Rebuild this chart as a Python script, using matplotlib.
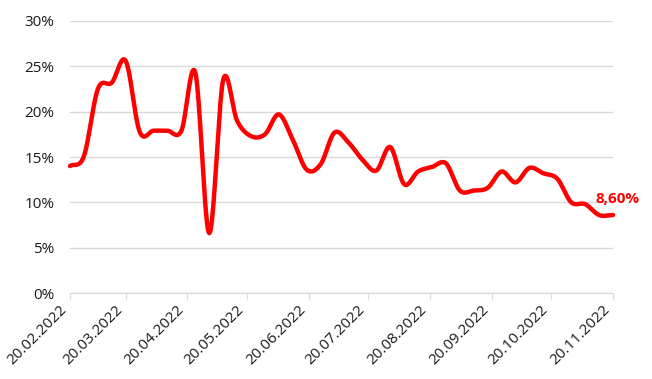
import numpy as np
import pandas as pd
import matplotlib
matplotlib.use("Agg")
import matplotlib.pyplot as plt
import matplotlib.dates as mdates
import matplotlib.transforms as mtransforms
from matplotlib.ticker import PercentFormatter

plt.rcParams['font.family'] = ['Open Sans', 'DejaVu Sans']

# weekly values (share)
dates = pd.date_range('2022-02-20', periods=40, freq='7D')
values = [14.0, 15.1, 22.5, 23.2, 25.6, 17.8, 17.9, 17.9, 17.9, 24.3,
          6.6, 23.5, 19.0, 17.3, 17.5, 19.7, 16.9, 13.6, 14.2, 17.7,
          16.6, 14.7, 13.5, 16.1, 12.0, 13.4, 13.9, 14.3, 11.3, 11.3,
          11.6, 13.4, 12.2, 13.8, 13.2, 12.6, 10.0, 9.8, 8.6, 8.6]
tick_dates = pd.date_range('2022-02-01', '2022-11-01', freq='MS') + pd.Timedelta(days=19)
last_label = '8,60%'

x = mdates.date2num(dates.to_pydatetime())
y = np.array(values) / 100


# smoothed line like the spreadsheet one (Catmull-Rom through the points)
def smooth(px, py, n=20):
    px = np.concatenate([[2 * px[0] - px[1]], px, [2 * px[-1] - px[-2]]])
    py = np.concatenate([[2 * py[0] - py[1]], py, [2 * py[-1] - py[-2]]])
    t = np.linspace(0, 1, n, endpoint=False)
    xs, ys = [], []
    for i in range(1, len(px) - 2):
        for arr, out in ((px, xs), (py, ys)):
            p0, p1, p2, p3 = arr[i - 1], arr[i], arr[i + 1], arr[i + 2]
            out.extend(0.5 * (2 * p1 + (-p0 + p2) * t
                              + (2 * p0 - 5 * p1 + 4 * p2 - p3) * t ** 2
                              + (-p0 + 3 * p1 - 3 * p2 + p3) * t ** 3))
    xs.append(px[-2])
    ys.append(py[-2])
    return np.array(xs), np.array(ys)


sx, sy = smooth(x, y)

fig = plt.figure(figsize=(6.52, 3.79), dpi=100)
ax = fig.add_axes([0.1074, 0.2269, 0.8328, 0.7177])
ax.plot(sx, sy, color='#ff0000', lw=3.2, solid_capstyle='round', clip_on=False)

ax.set_ylim(0, 0.30)
ax.set_yticks(np.arange(0, 0.31, 0.05))
ax.yaxis.set_major_formatter(PercentFormatter(xmax=1, decimals=0))
ax.set_xlim(x[0], x[-1])
ax.set_xticks(mdates.date2num(tick_dates.to_pydatetime()))
ax.xaxis.set_major_formatter(mdates.DateFormatter('%d.%m.%Y'))

# shift the rotated date labels a little to the right, as in the original
shift = mtransforms.ScaledTranslation(5 / 100, 0, fig.dpi_scale_trans)
for lab in ax.get_xticklabels():
    lab.set_rotation(45)
    lab.set_ha('right')
    lab.set_transform(lab.get_transform() + shift)

ax.grid(axis='y', color='#d9d9d9', lw=1)
ax.set_axisbelow(True)
for s in ['top', 'right', 'left']:
    ax.spines[s].set_visible(False)
ax.spines['bottom'].set_color('#d9d9d9')
ax.tick_params(axis='y', length=0, pad=11, labelsize=11, labelcolor='#1a1a1a')
ax.tick_params(axis='x', length=4, color='#d9d9d9', pad=3, labelsize=11, labelcolor='#1a1a1a')

ax.annotate(last_label, (x[-1], y[-1]), xytext=(5, 16), textcoords='offset pixels',
            ha='center', va='center', color='#ff0000', fontsize=11, fontweight='bold',
            annotation_clip=False)

fig.savefig('out.png', dpi=100)
